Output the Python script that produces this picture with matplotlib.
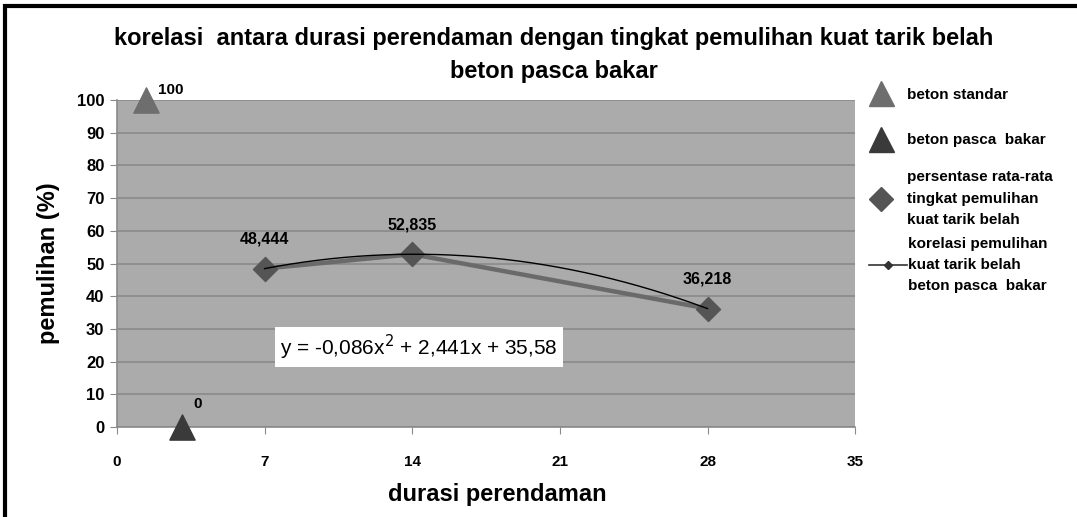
import matplotlib

matplotlib.use("Agg")
import matplotlib.pyplot as plt
import numpy as np
from matplotlib.lines import Line2D
from matplotlib.patches import Rectangle

plt.rcParams["font.family"] = ["Liberation Sans Narrow", "Liberation Sans", "DejaVu Sans"]

# ---------------------------------------------------------------- data
std_x = [1.4]
std_y = [100]
burnt_x = [3.1]
burnt_y = [0]
days = [7, 14, 28]
recovery = [48.444, 52.835, 36.218]
recovery_labels = ["48,444", "52,835", "36,218"]
x_ticks = [0, 7, 14, 21, 28, 35]
y_ticks = list(range(0, 101, 10))
equation = "y = -0,086x$^2$ + 2,441x + 35,58"
legend_labels = [
    "beton standar",
    "beton pasca  bakar",
    "persentase rata-rata\ntingkat pemulihan\nkuat tarik belah",
    "korelasi pemulihan\nkuat tarik belah\nbeton pasca  bakar",
]

# ---------------------------------------------------------------- figure
fig = plt.figure(figsize=(10.77, 5.17), dpi=100)
ax = fig.add_axes([0.1086, 0.174, 0.6854, 0.6326])
ax.set_facecolor("#ababab")

# outer frame (left/top black border like the screenshot)
fig.patches.append(Rectangle((0.005, -0.05), 1.2, 1.038, transform=fig.transFigure,
                             fill=False, edgecolor="black", linewidth=3))

ax.set_xlim(0, 35)
ax.set_ylim(0, 100)
ax.set_xticks(x_ticks)
ax.set_yticks(y_ticks)
ax.grid(axis="y", color="#8a8a8a", linewidth=1.2)
ax.set_axisbelow(True)
for s in ("top", "right"):
    ax.spines[s].set_visible(False)
for s in ("left", "bottom"):
    ax.spines[s].set_color("#8a8a8a")
    ax.spines[s].set_linewidth(1.2)
ax.tick_params(axis="x", length=5, color="#8a8a8a", pad=15, labelsize=11)
ax.tick_params(axis="y", length=5, color="#8a8a8a", pad=4, labelsize=12)
for lab in ax.get_xticklabels() + ax.get_yticklabels():
    lab.set_fontweight("bold")

ax.set_xlabel("durasi perendaman", fontsize=17, fontweight="bold")
ax.xaxis.set_label_coords(0.515, -0.17)
ax.set_ylabel("pemulihan (%)", fontsize=17, fontweight="bold", labelpad=12)

# series
ax.scatter(std_x, std_y, marker="^", s=330, color="#6e6e6e", zorder=5, clip_on=False)
ax.scatter(burnt_x, burnt_y, marker="^", s=330, color="#3a3a3a", zorder=5, clip_on=False)
ax.plot(days, recovery, color="#6a6a6a", linewidth=3.2, zorder=3)
ax.scatter(days, recovery, marker="D", s=150, color="#555555", zorder=4)

# polynomial trendline fitted from the data
coef = np.polyfit(days, recovery, 2)
xs = np.linspace(days[0], days[-1], 200)
ax.plot(xs, np.polyval(coef, xs), color="black", linewidth=1.0, zorder=6)

# data labels
ax.annotate("100", (std_x[0], std_y[0]), xytext=(8, 4), textcoords="offset points",
            fontsize=11, fontweight="bold", annotation_clip=False)
ax.annotate("0", (burnt_x[0], burnt_y[0]), xytext=(8, 14), textcoords="offset points",
            fontsize=11, fontweight="bold")
for x, y, t in zip(days, recovery, recovery_labels):
    ax.annotate(t, (x, y), xytext=(0, 18), textcoords="offset points",
                ha="center", fontsize=11.5, fontweight="bold")

ax.text(14.3, 24.5, equation, ha="center", va="center", fontsize=15, zorder=7,
        bbox=dict(boxstyle="square,pad=0.25", facecolor="white", edgecolor="none"))

# title
fig.text(0.514, 0.925, "korelasi  antara durasi perendaman dengan tingkat pemulihan kuat tarik belah",
         ha="center", va="center", fontsize=17, fontweight="bold")
fig.text(0.514, 0.862, "beton pasca bakar", ha="center", va="center",
         fontsize=17, fontweight="bold")

# legend: one entry per legend so the uneven spacing of the original can be kept
handles = [
    Line2D([], [], marker="^", linestyle="none", markersize=18, color="#6e6e6e"),
    Line2D([], [], marker="^", linestyle="none", markersize=18, color="#3a3a3a"),
    Line2D([], [], marker="D", linestyle="none", markersize=12, color="#555555"),
    Line2D([], [], marker="D", markersize=4, color="#333333", linewidth=1.2),
]
entry_tops = [0.845, 0.757, 0.685, 0.556]  # figure fraction, top of each entry
entry_pads = [0.9, 0.9, 0.9, 0.05]
entry_lens = [1.6, 1.6, 1.6, 2.5]
for h, lab, top, pad, hl in zip(handles, legend_labels, entry_tops, entry_pads, entry_lens):
    lg = fig.legend([h], [lab], loc="upper left", bbox_to_anchor=(0.8, top),
                    frameon=False, handlelength=hl, handletextpad=pad,
                    borderpad=0.0, prop={"size": 11, "weight": "bold"})
    for t in lg.get_texts():
        t.set_linespacing(1.65)

fig.savefig("out.png", dpi=100, facecolor="white")
